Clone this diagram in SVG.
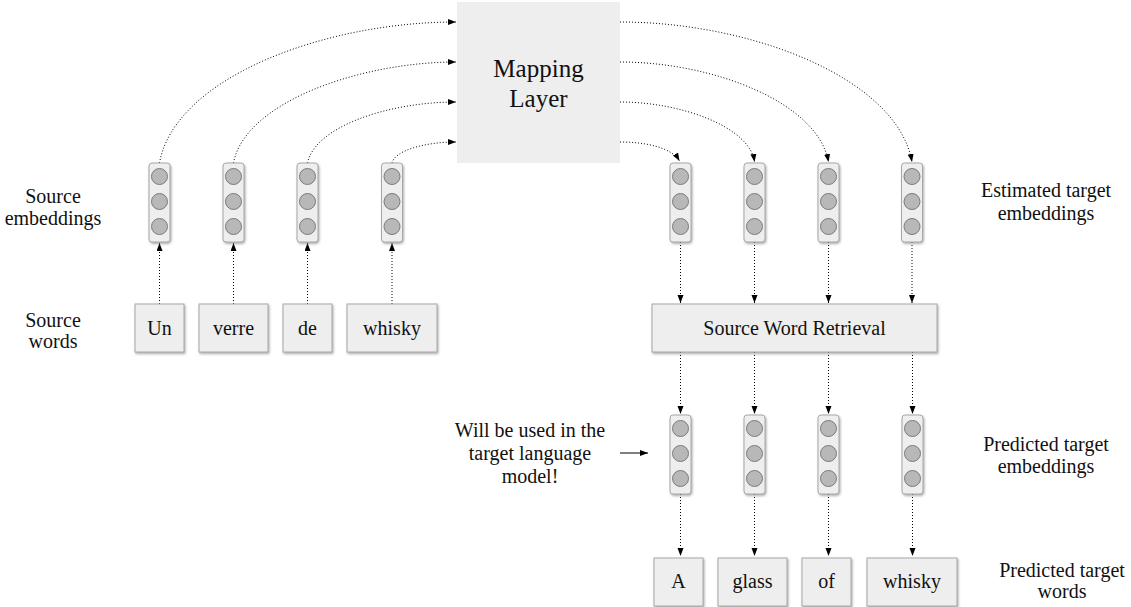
<svg xmlns="http://www.w3.org/2000/svg" xmlns:xlink="http://www.w3.org/1999/xlink" width="1131" height="607" viewBox="0 0 1131 607">
<style>
text{font-family:"Times New Roman",Times,"Liberation Serif",serif;fill:#111;text-anchor:middle;font-size:20px}
.big{font-size:25px}
.box{fill:#eeeeee;stroke:#a8a8a8;stroke-width:1;filter:url(#sh)}
.dot{fill:none;stroke:#000;stroke-width:1;stroke-dasharray:1 2}
.solid{fill:none;stroke:#000;stroke-width:1}
.circ{fill:#b8b8b8;stroke:#7a7a7a;stroke-width:1}
</style>
<defs>
<filter id="sh" x="-20%" y="-20%" width="140%" height="140%">
<feDropShadow dx="1" dy="1.5" stdDeviation="1.2" flood-color="#777" flood-opacity="0.6"/>
</filter>
<marker id="ah" markerUnits="userSpaceOnUse" markerWidth="9" markerHeight="7" refX="8" refY="3" orient="auto">
<path d="M0,0 L8,3 L0,6 z" fill="#000"/>
</marker>
<g id="vec">
<rect class="box" x="-10.5" y="0" width="21" height="79" rx="3"/>
<circle class="circ" cx="0" cy="13.5" r="8"/>
<circle class="circ" cx="0" cy="38.5" r="8"/>
<circle class="circ" cx="0" cy="63.5" r="8"/>
</g>
</defs>
<rect width="1131" height="607" fill="#fff"/>

<g id="connectors">
<path class="dot" marker-end="url(#ah)" d="M159.5,163 C174.4,78.4 323,22 456,22"/>
<path class="dot" marker-end="url(#ah)" d="M233.5,163 C244.7,102.4 360,62 456,62"/>
<path class="dot" marker-end="url(#ah)" d="M307.5,163 C315,126.4 389,102 456,102"/>
<path class="dot" marker-end="url(#ah)" d="M392,163 C395,150.4 425,142 456,142"/>
<path class="dot" marker-end="url(#ah)" d="M620,22 C751.4,22 897.4,78.4 912,162"/>
<path class="dot" marker-end="url(#ah)" d="M620,62 C713,62 818,102.4 828.5,162"/>
<path class="dot" marker-end="url(#ah)" d="M620,102 C680,102 749.8,126.4 754.5,162"/>
<path class="dot" marker-end="url(#ah)" d="M620,142 C647,142 672,148 679.5,161"/>
<path class="dot" marker-end="url(#ah)" d="M159.5,304 L159.5,243"/>
<path class="dot" marker-end="url(#ah)" d="M233.5,304 L233.5,243"/>
<path class="dot" marker-end="url(#ah)" d="M307.5,304 L307.5,243"/>
<path class="dot" marker-end="url(#ah)" d="M392,304 L392,243"/>
<path class="dot" marker-end="url(#ah)" d="M680.5,242 L680.5,303"/>
<path class="dot" marker-end="url(#ah)" d="M754.5,242 L754.5,303"/>
<path class="dot" marker-end="url(#ah)" d="M828.5,242 L828.5,303"/>
<path class="dot" marker-end="url(#ah)" d="M912,242 L912,303"/>
<path class="dot" marker-end="url(#ah)" d="M680.5,352 L680.5,414"/>
<path class="dot" marker-end="url(#ah)" d="M754.5,352 L754.5,414"/>
<path class="dot" marker-end="url(#ah)" d="M828.5,352 L828.5,414"/>
<path class="dot" marker-end="url(#ah)" d="M912.5,352 L912.5,414"/>
<path class="dot" marker-end="url(#ah)" d="M680.5,494 L680.5,556"/>
<path class="dot" marker-end="url(#ah)" d="M754.5,494 L754.5,556"/>
<path class="dot" marker-end="url(#ah)" d="M828.5,494 L828.5,556"/>
<path class="dot" marker-end="url(#ah)" d="M912.5,494 L912.5,556"/>
<path class="solid" marker-end="url(#ah)" d="M620,453 L648,453"/>
</g>

<g id="mapping-layer">
<rect x="457" y="2" width="163" height="161" fill="#eeeeee"/>
<text class="big" x="538.5" y="77">Mapping</text>
<text class="big" x="538.5" y="107">Layer</text>
</g>

<g id="src-emb-1"><use xlink:href="#vec" x="159.5" y="163"/></g>
<g id="src-emb-2"><use xlink:href="#vec" x="233.5" y="163"/></g>
<g id="src-emb-3"><use xlink:href="#vec" x="307.5" y="163"/></g>
<g id="src-emb-4"><use xlink:href="#vec" x="392" y="163"/></g>

<g id="est-emb-1"><use xlink:href="#vec" x="680.5" y="163"/></g>
<g id="est-emb-2"><use xlink:href="#vec" x="754.5" y="163"/></g>
<g id="est-emb-3"><use xlink:href="#vec" x="828.5" y="163"/></g>
<g id="est-emb-4"><use xlink:href="#vec" x="912" y="163"/></g>

<g id="pred-emb-1"><use xlink:href="#vec" x="680.5" y="415"/></g>
<g id="pred-emb-2"><use xlink:href="#vec" x="754.5" y="415"/></g>
<g id="pred-emb-3"><use xlink:href="#vec" x="828.5" y="415"/></g>
<g id="pred-emb-4"><use xlink:href="#vec" x="912.5" y="415"/></g>

<g id="src-word-un"><rect class="box" x="135" y="304" width="49" height="48"/><text x="159.5" y="335">Un</text></g>
<g id="src-word-verre"><rect class="box" x="199" y="304" width="69" height="48"/><text x="233.5" y="335">verre</text></g>
<g id="src-word-de"><rect class="box" x="283" y="304" width="49" height="48"/><text x="307.5" y="335">de</text></g>
<g id="src-word-whisky"><rect class="box" x="347" y="304" width="90" height="48"/><text x="392" y="335">whisky</text></g>

<g id="source-word-retrieval"><rect class="box" x="652" y="304" width="285" height="48"/><text x="794.5" y="335">Source Word Retrieval</text></g>

<g id="tgt-word-a"><rect class="box" x="654" y="558" width="49" height="48"/><text x="678.5" y="588">A</text></g>
<g id="tgt-word-glass"><rect class="box" x="718" y="558" width="69" height="48"/><text x="752.5" y="588">glass</text></g>
<g id="tgt-word-of"><rect class="box" x="802" y="558" width="49" height="48"/><text x="826.5" y="588">of</text></g>
<g id="tgt-word-whisky"><rect class="box" x="867" y="558" width="90" height="48"/><text x="912" y="588">whisky</text></g>

<g id="label-source-embeddings"><text x="53" y="203">Source</text><text x="53" y="225">embeddings</text></g>
<g id="label-source-words"><text x="53" y="327">Source</text><text x="53" y="348">words</text></g>
<g id="label-estimated"><text x="1046" y="197">Estimated target</text><text x="1046" y="220">embeddings</text></g>
<g id="label-predicted-emb"><text x="1046" y="451">Predicted target</text><text x="1046" y="473">embeddings</text></g>
<g id="label-predicted-words"><text x="1062" y="577">Predicted target</text><text x="1062" y="598">words</text></g>
<g id="note"><text x="530" y="437">Will be used in the</text><text x="530" y="460">target language</text><text x="530" y="483">model!</text></g>
</svg>
